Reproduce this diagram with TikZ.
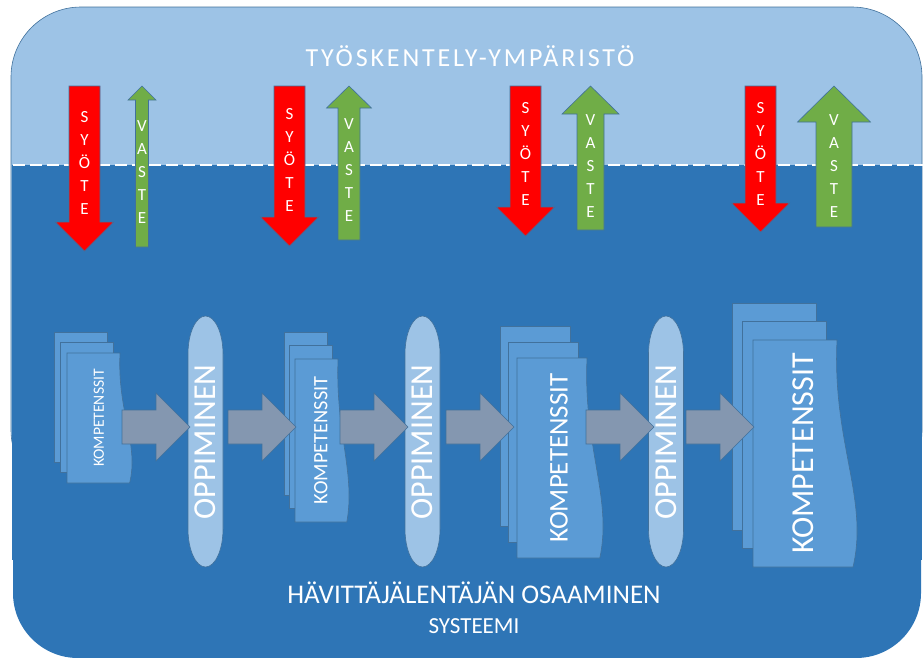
\documentclass[tikz,border=0pt]{standalone}
\usepackage{fontspec}
\setmainfont{Carlito}
\newfontfamily\harva[LetterSpace=11]{Carlito}
\definecolor{tausta}{HTML}{2E75B6}
\definecolor{vaalea}{HTML}{9DC3E6}
\definecolor{reuna}{HTML}{41719C}
\definecolor{kortti}{HTML}{5B9BD5}
\definecolor{harmaa}{HTML}{8497B0}
\definecolor{punainen}{HTML}{FF0000}
\definecolor{vihrea}{HTML}{70AD47}

\tikzset{
  teksti/.style={text=white, inner sep=0pt},
  kirjaimet/.style={teksti, align=center, font=\fontsize{17}{23}\selectfont},
  ohut/.style={draw=reuna, line width=0.6pt},
}

\begin{document}
\begin{tikzpicture}[x=1pt,y=-1pt]
\useasboundingbox (0,0) rectangle (923,657);
\clip (0,0) rectangle (923,657);
\fill[tausta, rounded corners=65pt] (13,100) rectangle (921,658);
\draw[ohut, fill=vaalea, rounded corners=70pt] (11,7) rectangle (922,500);
\fill[tausta] (11.6,165) rectangle (921.5,560);
\draw[white, line width=2.5pt, dash pattern=on 12pt off 5pt] (13,165) -- (923,165);
\node[teksti, anchor=base, font=\harva\fontsize{26}{30}\selectfont] (otsikko) at (470,66) {TYÖSKENTELY-YMPÄRISTÖ};

\foreach \i/\x/\kanta/\ty in {1/84.5/222/163, 2/289.5/217/160, 3/525.5/207/154, 4/760.5/203/154}{
  \draw[ohut, fill=punainen] ({\x-15.5},86) -- ({\x+15.5},86) -- ({\x+15.5},\kanta) -- ({\x+29},\kanta) -- (\x,{\kanta+29}) -- ({\x-29},\kanta) -- ({\x-15.5},\kanta) -- cycle;
  \node[kirjaimet] (syote\i) at (\x,\ty) {S\\Y\\Ö\\T\\E};
}
\foreach \i/\x/\sw/\hw/\ala/\kanta/\ty in {1/142/6.5/14/247/100/172, 2/349/11/22.5/240/108/170, 3/590.5/13.5/28.5/230/114/166, 4/834/18/36.5/227/122/166}{
  \draw[ohut, fill=vihrea] ({\x-\sw},\ala) -- ({\x+\sw},\ala) -- ({\x+\sw},\kanta) -- ({\x+\hw},\kanta) -- (\x,86) -- ({\x-\hw},\kanta) -- ({\x-\sw},\kanta) -- cycle;
  \node[kirjaimet] (vaste\i) at (\x,\ty) {V\\A\\S\\T\\E};
}

\foreach \i/\x/\y/\w/\h/\dx/\dy/\b/\koko in {1/67/353/53/130/6.5/10.5/12/15.6, 2/295/359/43/163/5.5/13.5/11/20.4, 3/517/358/70/200/8.5/16/16/27, 4/753/340/84/227/10.5/18.5/20/32}{
  \draw[ohut, fill=kortti] ({\x-2*\dx},{\y-2*\dy}) rectangle ++(\w,\h);
  \draw[ohut, fill=kortti] ({\x-\dx},{\y-\dy}) rectangle ++(\w,\h);
  \draw[ohut, fill=kortti] (\x,\y) -- ({\x+\w},\y) .. controls ({\x+\w-0.25*\b},{\y+0.45*\h}) and ({\x+\w+1.6*\b},{\y+0.7*\h}) .. ({\x+\w+0.8*\b},{\y+\h}) -- (\x,{\y+\h}) -- cycle;
  \node[teksti, rotate=90, font=\fontsize{\koko}{\koko}\selectfont] (komp\i) at ({\x+0.6*\w},{\y+0.5*\h}) {KOMPETENSSIT};
}
\foreach \i/\x in {1/205.5, 2/422.5, 3/666}{
  \draw[ohut, fill=vaalea] ({\x+17.5},354) arc[start angle=0, end angle=180, x radius=17.5pt, y radius=38pt] -- ({\x-17.5},529) arc[start angle=180, end angle=360, x radius=17.5pt, y radius=38pt] -- cycle;
  \node[teksti, rotate=90, font=\fontsize{32}{32}\selectfont] (opp\i) at (\x,442) {OPPIMINEN};
}
\foreach \a in {122,228,340,446,586,686}
  \draw[ohut, fill=harmaa] (\a,410) -- ++(34,0) -- ++(0,-17) -- ++(34,34) -- ++(-34,34) -- ++(0,-17) -- ++(-34,0) -- cycle;

\node[teksti, anchor=base, font=\fontsize{27}{30}\selectfont] (osaaminen) at (474,603) {HÄVITTÄJÄLENTÄJÄN OSAAMINEN};
\node[teksti, anchor=base, font=\fontsize{23}{28}\selectfont] (systeemi) at (474,633) {SYSTEEMI};
\end{tikzpicture}
\end{document}
